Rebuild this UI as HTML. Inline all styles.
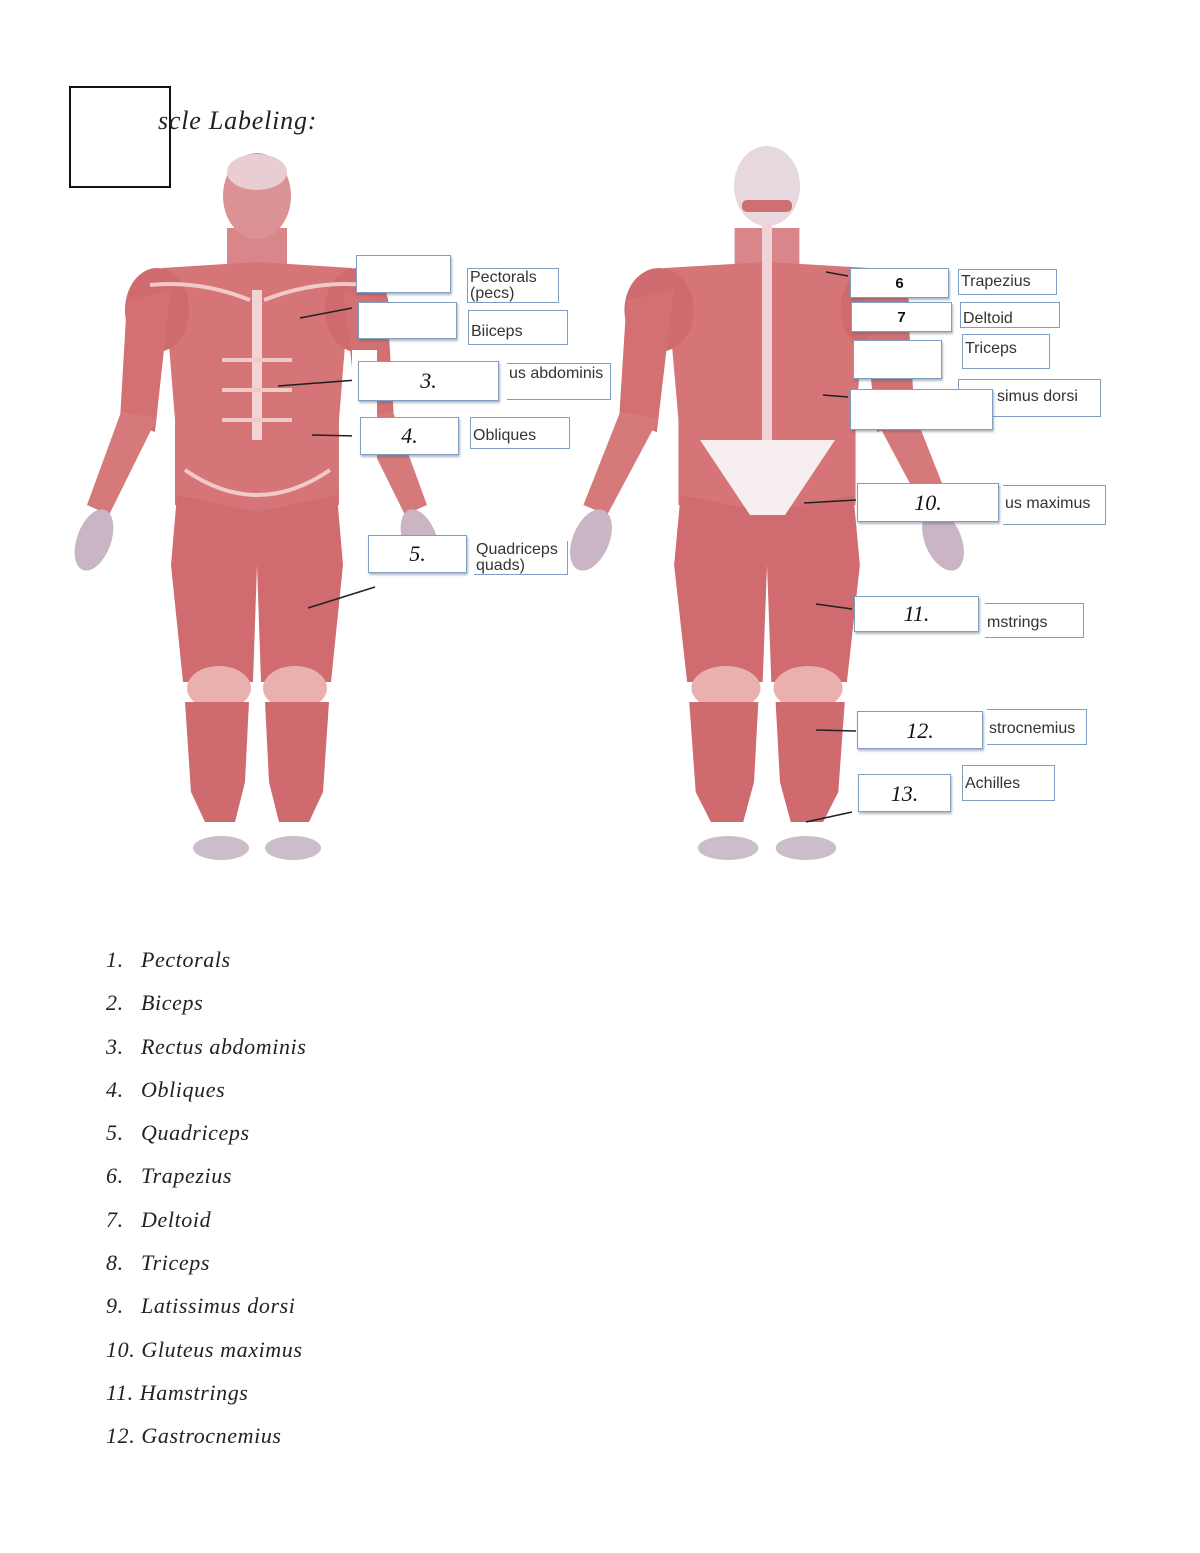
<!DOCTYPE html>
<html><head><meta charset="utf-8"><style>
html,body{margin:0;padding:0;background:#fff;}
body{width:1200px;height:1553px;position:relative;overflow:hidden;font-family:"Liberation Serif",serif;}
.sq{position:absolute;left:69px;top:86px;width:98px;height:98px;border:2px solid #111;}
.title{position:absolute;left:158px;top:106px;font-style:italic;font-size:26px;letter-spacing:0.8px;color:#222;}
.b{position:absolute;background:#fff;border:1.5px solid #7f9fc2;box-shadow:1px 2px 2px rgba(90,100,120,.45);box-sizing:border-box;font-family:"Liberation Serif",serif;font-style:italic;font-size:22px;text-align:center;color:#111;}
.n{position:absolute;border:1.5px solid #7f9fc2;box-sizing:border-box;font-family:"Liberation Sans",sans-serif;font-size:16px;line-height:16px;color:#333;padding:1px 2px;background:#fff;white-space:nowrap;overflow:hidden;}
.bold{font-family:"Liberation Sans",sans-serif;font-style:normal;font-weight:bold;font-size:15px;}
ol{position:absolute;left:106px;top:945px;margin:0;padding:0;list-style:none;font-style:italic;font-size:22px;letter-spacing:0.6px;color:#222;}
ol li{height:43.3px;line-height:30px;}
ol li span{display:inline-block;width:35px;}
</style></head><body>
<svg width="1200" height="1553" style="position:absolute;left:0;top:0">
<defs>
<g id="half">
<rect x="0" y="228" width="30" height="45" fill="#d8868a"/>
<polygon points="0,262 95,268 110,300 88,345 82,420 82,505 0,522" fill="#d57577"/>
<ellipse cx="100" cy="310" rx="32" ry="42" fill="#cf6b6f"/>
<polygon points="86,290 130,300 137,420 102,432 92,340" fill="#d27072"/>
<polygon points="100,418 136,412 170,505 148,515" fill="#d6797b"/>
<ellipse cx="163" cy="540" rx="17" ry="32" fill="#c9b5c4" transform="rotate(-20 163 540)"/>
<polygon points="0,512 80,495 86,565 74,682 4,682 0,565" fill="#d06c70"/>
<ellipse cx="38" cy="688" rx="32" ry="22" fill="#e9b0ae"/>
<polygon points="8,702 72,702 66,792 52,822 22,822 12,782" fill="#cf6a6e"/>
<ellipse cx="36" cy="848" rx="28" ry="12" fill="#cbbdca"/>
</g>
</defs>
<g transform="translate(257,0)"><use href="#half"/></g>
<g transform="translate(257,0) scale(-1,1)"><use href="#half"/></g>
<ellipse cx="257" cy="196" rx="34" ry="43" fill="#dc9294"/>
<ellipse cx="257" cy="172" rx="30" ry="18" fill="#e8cdd2"/>
<rect x="252" y="290" width="10" height="150" fill="#f2d4d4"/>
<g fill="none" stroke="#f0c9c8" stroke-width="4">
<line x1="222" y1="360" x2="292" y2="360"/><line x1="222" y1="390" x2="292" y2="390"/><line x1="222" y1="420" x2="292" y2="420"/>
<path d="M185,470 Q257,520 330,470"/>
<path d="M150,285 Q200,280 250,300 M365,285 Q315,280 264,300"/>
</g>
<g transform="translate(767,0) scale(1.08,1)"><use href="#half"/></g>
<g transform="translate(767,0) scale(-1.08,1)"><use href="#half"/></g>
<ellipse cx="767" cy="186" rx="33" ry="40" fill="#e6d8de"/>
<rect x="742" y="200" width="50" height="12" rx="5" fill="#cf6f72"/>
<rect x="762" y="220" width="10" height="230" fill="#efd3d6"/>
<polygon points="700,440 835,440 785,515 750,515" fill="#f7eef0"/>
<g stroke="#222" stroke-width="1.6">
<line x1="300" y1="318" x2="352" y2="308"/><line x1="278" y1="386" x2="357" y2="380"/>
<line x1="312" y1="435" x2="357" y2="436"/><line x1="308" y1="608" x2="375" y2="587"/>
<line x1="826" y1="272" x2="848" y2="276"/><line x1="823" y1="395" x2="848" y2="397"/>
<line x1="804" y1="503" x2="856" y2="500"/><line x1="816" y1="604" x2="852" y2="609"/>
<line x1="816" y1="730" x2="856" y2="731"/><line x1="806" y1="822" x2="852" y2="812"/>
</g>
<rect x="352" y="350" width="25" height="115" fill="#fff"/>
</svg>
<div class="sq"></div>
<div class="title">scle Labeling:</div>

<div class="b" style="left:356px;top:255px;width:95px;height:38px"></div>
<div class="n" style="left:467px;top:268px;width:92px;height:35px">Pectorals<br>(pecs)</div>
<div class="b" style="left:358px;top:302px;width:99px;height:37px"></div>
<div class="n" style="left:468px;top:310px;width:100px;height:35px;padding-top:13px">Biiceps</div>
<div class="b" style="left:358px;top:361px;width:141px;height:40px;line-height:38px">3.</div>
<div class="n" style="left:507px;top:363px;width:104px;height:37px;border-left:none;padding-top:2px">us abdominis</div>
<div class="b" style="left:360px;top:417px;width:99px;height:38px;line-height:36px">4.</div>
<div class="n" style="left:470px;top:417px;width:100px;height:32px;padding-top:10px">Obliques</div>
<div class="b" style="left:368px;top:535px;width:99px;height:38px;line-height:36px">5.</div>
<div class="n" style="left:474px;top:541px;width:94px;height:34px;border-left:none;border-top:none">Quadriceps<br>quads)</div>

<div class="b bold" style="left:850px;top:268px;width:99px;height:30px;line-height:30px">6</div>
<div class="n" style="left:958px;top:269px;width:99px;height:26px;padding-top:4px">Trapezius</div>
<div class="b bold" style="left:851px;top:302px;width:101px;height:30px;line-height:30px">7</div>
<div class="n" style="left:960px;top:302px;width:100px;height:26px;padding-top:8px">Deltoid</div>
<div class="b" style="left:853px;top:340px;width:89px;height:39px"></div>
<div class="n" style="left:962px;top:334px;width:88px;height:35px;padding-top:6px">Triceps</div>
<div class="n" style="left:958px;top:379px;width:143px;height:38px;padding:9px 0 0 38px">simus dorsi</div>
<div class="b" style="left:850px;top:389px;width:143px;height:41px"></div>
<div class="b" style="left:857px;top:483px;width:142px;height:39px;line-height:37px">10.</div>
<div class="n" style="left:1003px;top:485px;width:103px;height:40px;padding-top:10px;border-left:none">us maximus</div>
<div class="b" style="left:854px;top:596px;width:125px;height:36px;line-height:34px">11.</div>
<div class="n" style="left:985px;top:603px;width:99px;height:35px;padding-top:11px;border-left:none">mstrings</div>
<div class="b" style="left:857px;top:711px;width:126px;height:38px;line-height:38px">12.</div>
<div class="n" style="left:987px;top:709px;width:100px;height:36px;padding-top:11px;border-left:none">strocnemius</div>
<div class="b" style="left:858px;top:774px;width:93px;height:38px;line-height:38px">13.</div>
<div class="n" style="left:962px;top:765px;width:93px;height:36px;padding-top:10px">Achilles</div>

<ol>
<li><span>1.</span>Pectorals</li>
<li><span>2.</span>Biceps</li>
<li><span>3.</span>Rectus abdominis</li>
<li><span>4.</span>Obliques</li>
<li><span>5.</span>Quadriceps</li>
<li><span>6.</span>Trapezius</li>
<li><span>7.</span>Deltoid</li>
<li><span>8.</span>Triceps</li>
<li><span>9.</span>Latissimus dorsi</li>
<li>10. Gluteus maximus</li>
<li>11. Hamstrings</li>
<li>12. Gastrocnemius</li>
</ol>
</body></html>
